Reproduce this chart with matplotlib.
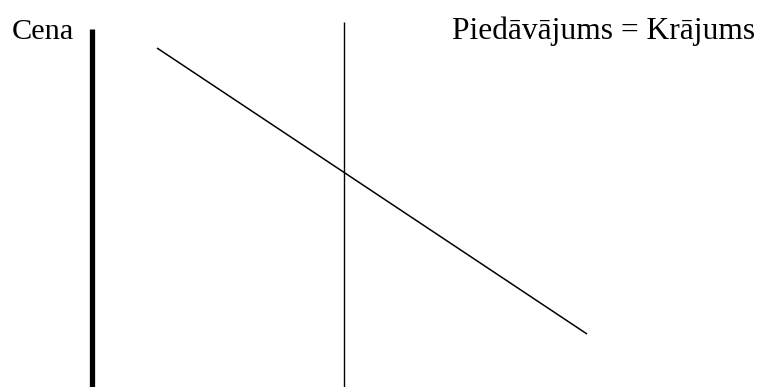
import matplotlib
matplotlib.use("Agg")
import matplotlib.pyplot as plt

# Diagram elements (in a price/quantity layout space, y grows downward)
price_axis_x = [92, 92]
price_axis_y = [29, 387]
supply_x = [344, 344]
supply_y = [22, 387]
demand_x = [157, 587]
demand_y = [48, 334]
labels = ["Cena", "Piedāvājums = Krājums"]
label_x = [12, 452]
label_y = [39, 39]
label_size = [21.8, 22.7]

fig = plt.figure(figsize=(7.6, 3.87), dpi=100)
ax = fig.add_axes([0, 0, 1, 1])
ax.set_xlim(0, 760)
ax.set_ylim(387, 0)
ax.axis("off")

ax.plot(price_axis_x, price_axis_y, color="black", lw=3.8, solid_capstyle="butt")
ax.plot(supply_x, supply_y, color="black", lw=1.0, solid_capstyle="butt")
ax.plot(demand_x, demand_y, color="black", lw=1.1, solid_capstyle="butt")

for t, x, y, s in zip(labels, label_x, label_y, label_size):
    ax.text(x, y, t, family="Liberation Serif", fontsize=s, va="baseline", ha="left", color="black")

fig.savefig("out.png", dpi=100)
